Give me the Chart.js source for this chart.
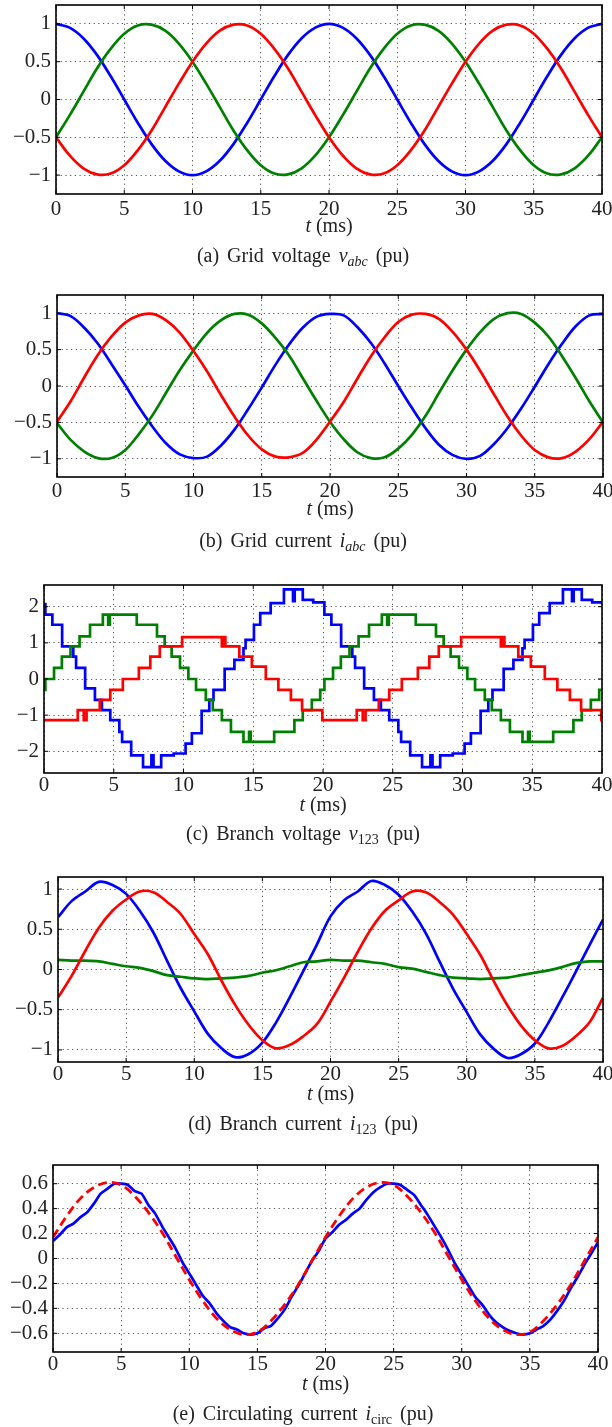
<!DOCTYPE html>
<html>
<head>
<meta charset="utf-8">
<script src="https://cdn.jsdelivr.net/npm/chart.js@4.4.1/dist/chart.umd.min.js"></script>
<style>
  body { margin: 0; background: #fff; }
  #page { position: relative; width: 612px; height: 1427px; overflow: hidden;
          font-family: "Liberation Serif", "DejaVu Serif", serif; color: #222; }
  #page canvas { position: absolute; left: 0; }
  .axl, .cap { position: absolute; font-size: 20px; line-height: 24px; text-align: center; white-space: nowrap; }
  .cap { left: 0; width: 606px; word-spacing: 3px; }
  sub { font-size: 14px; line-height: 0; vertical-align: -4px; }
</style>
</head>
<body>
<div id="page"></div>
<script>
// time base (ms) for the sampled traces
const tMs = [0,1,2,3,4,5,6,7,8,9,10,11,12,13,14,15,16,17,18,19,20,
             21,22,23,24,25,26,27,28,29,30,31,32,33,34,35,36,37,38,39,40];
const tHalfMs = [0,0.5,1,1.5,2,2.5,3,3.5,4,4.5,5,5.5,6,6.5,7,7.5,8,8.5,9,9.5,
                 10,10.5,11,11.5,12,12.5,13,13.5,14,14.5,15,15.5,16,16.5,17,17.5,18,18.5,19,19.5,
                 20,20.5,21,21.5,22,22.5,23,23.5,24,24.5,25,25.5,26,26.5,27,27.5,28,28.5,29,29.5,
                 30,30.5,31,31.5,32,32.5,33,33.5,34,34.5,35,35.5,36,36.5,37,37.5,38,38.5,39,39.5,40];
const xTicks = [0,5,10,15,20,25,30,35,40];

// (a) grid voltage
const gridVBlue  = [1,.95,.81,.59,.31,0,-.31,-.59,-.81,-.95,-1,-.95,-.81,-.59,-.31,0,.31,.59,.81,.95,
                    1,.95,.81,.59,.31,0,-.31,-.59,-.81,-.95,-1,-.95,-.81,-.59,-.31,0,.31,.59,.81,.95,1];
const gridVGreen = [-.5,-.21,.10,.41,.67,.87,.98,.99,.91,.74,.5,.21,-.10,-.41,-.67,-.87,-.98,-.99,-.91,-.74,
                    -.5,-.21,.10,.41,.67,.87,.98,.99,.91,.74,.5,.21,-.10,-.41,-.67,-.87,-.98,-.99,-.91,-.74,-.5];
const gridVRed   = [-.5,-.74,-.91,-.99,-.98,-.87,-.67,-.41,-.10,.21,.5,.74,.91,.99,.98,.87,.67,.41,.10,-.21,
                    -.5,-.74,-.91,-.99,-.98,-.87,-.67,-.41,-.10,.21,.5,.74,.91,.99,.98,.87,.67,.41,.10,-.21,-.5];

// (b) grid current
const gridIBlue  = [1,.96,.80,.58,.30,.01,-.29,-.56,-.79,-.94,-.99,-.97,-.82,-.60,-.32,-.02,.29,.57,.80,.95,
                    .99,.97,.81,.59,.31,0,-.30,-.58,-.81,-.95,-1,-.96,-.80,-.58,-.31,-.01,.30,.58,.82,.97,.99];
const gridIGreen = [-.51,-.74,-.90,-.99,-.99,-.88,-.66,-.40,-.09,.22,.49,.73,.90,.99,.98,.86,.66,.42,.11,-.20,
                    -.49,-.73,-.91,-.99,-.98,-.86,-.67,-.41,-.09,.22,.50,.74,.92,1,.99,.87,.68,.41,.11,-.21,-.5];
const gridIRed   = [-.49,-.21,.12,.43,.68,.87,.97,.99,.90,.73,.48,.20,-.12,-.42,-.68,-.87,-.97,-.98,-.92,-.74,
                    -.49,-.22,.10,.41,.67,.88,.98,.99,.92,.74,.50,.21,-.11,-.42,-.68,-.88,-.98,-.99,-.90,-.73,-.49];

// (c) branch voltage: step start times (ms) and levels
const branchVBlueT = [0,0.1,0.6,1.3,2.1,2.3,2.95,3.65,4.15,4.75,5.4,5.6,6.25,7.1,7.7,7.85,8.4,9.3,10.15,10.6,
                      11.3,11.85,12.15,12.95,13.65,14.3,14.45,15.05,15.5,16.25,17.2,17.85,17.97,18.55,19.3,
                      20.1,20.6,21.3,22.1,22.3,22.95,23.65,24.15,24.75,25.4,25.6,26.25,27.1,27.7,27.85,28.4,29.3,30.15,30.6,
                      31.3,31.85,32.15,32.95,33.65,34.3,34.45,35.05,35.5,36.25,37.2,37.85,37.97,38.55,39.3,40];
const branchVBlue  = [2.07,1.78,1.5,0.9,0.62,0.31,-0.26,-0.58,-0.86,-1.14,-1.46,-1.74,-2.11,-2.44,-2.11,-2.44,-2.11,-2.06,-1.79,-1.5,
                      -0.88,-0.58,-0.3,0.28,0.53,0.85,1.08,1.5,1.82,2.1,2.48,2.15,2.48,2.19,2.12,
                      1.78,1.5,0.9,0.62,0.31,-0.26,-0.58,-0.86,-1.14,-1.46,-1.74,-2.11,-2.44,-2.11,-2.44,-2.11,-2.06,-1.79,-1.5,
                      -0.88,-0.58,-0.3,0.28,0.53,0.85,1.08,1.5,1.82,2.1,2.48,2.15,2.48,2.19,2.12,2.07];
const branchVGreenT = [0,0.1,0.72,1.28,1.9,2.55,3.3,4.22,4.6,4.72,6.65,8.1,8.65,9.15,9.75,10.35,10.9,11.6,12.1,12.75,
                       13.4,14.3,14.7,14.82,16.5,17.95,18.55,19.2,19.8,
                       20.1,20.72,21.28,21.9,22.55,23.3,24.22,24.6,24.72,26.65,28.1,28.65,29.15,29.75,30.35,30.9,31.6,32.1,32.75,
                       33.4,34.3,34.7,34.82,36.5,37.95,38.55,39.2,39.8,40];
const branchVGreen  = [-0.3,0,0.31,0.62,0.9,1.18,1.5,1.78,1.5,1.78,1.5,1.18,0.9,0.62,0.31,0,-0.3,-0.58,-0.86,-1.14,
                       -1.46,-1.74,-1.46,-1.74,-1.46,-1.14,-0.86,-0.58,-0.3,
                       0,0.31,0.62,0.9,1.18,1.5,1.78,1.5,1.78,1.5,1.18,0.9,0.62,0.31,0,-0.3,-0.58,-0.86,-1.14,
                       -1.46,-1.74,-1.46,-1.74,-1.46,-1.14,-0.86,-0.58,-0.3,-0.3];
const branchVRedT = [0,2.42,2.85,3.05,4.0,4.75,5.65,6.8,7.62,8.3,9.9,12.75,12.9,13.0,14.0,14.9,15.9,16.8,17.7,18.5,19.95,
                     22.42,22.85,23.05,24.0,24.75,25.65,26.8,27.62,28.3,29.9,32.75,32.9,33.0,34.0,34.9,35.9,36.8,37.7,38.5,39.95,40];
const branchVRed  = [-1.14,-0.86,-1.14,-0.86,-0.58,-0.3,0,0.31,0.62,0.9,1.16,0.9,1.16,0.9,0.62,0.34,0,-0.3,-0.58,-0.86,-1.14,
                     -0.86,-1.14,-0.86,-0.58,-0.3,0,0.31,0.62,0.9,1.16,0.9,1.16,0.9,0.62,0.34,0,-0.3,-0.58,-0.86,-1.14,-1.14];

// (d) branch current
const branchIBlue  = [0.65,0.85,0.97,1.09,1.05,0.94,0.73,0.46,0.11,-0.23,-0.52,-0.80,-0.98,-1.09,-1.05,-0.91,-0.66,-0.35,-0.02,0.31,
                      0.66,0.86,0.97,1.10,1.05,0.93,0.72,0.45,0.10,-0.24,-0.53,-0.81,-0.99,-1.10,-1.05,-0.92,-0.66,-0.35,-0.03,0.30,0.62];
const branchIGreen = [0.12,0.11,0.11,0.10,0.07,0.04,0.02,-0.02,-0.07,-0.09,-0.11,-0.12,-0.11,-0.10,-0.08,-0.04,-0.01,0.04,0.09,0.10,
                      0.12,0.11,0.11,0.09,0.07,0.03,0.01,-0.03,-0.07,-0.10,-0.11,-0.12,-0.11,-0.10,-0.07,-0.04,-0.01,0.03,0.08,0.10,0.10];
const branchIRed   = [-0.35,-0.08,0.23,0.52,0.73,0.87,0.97,0.96,0.84,0.69,0.44,0.19,-0.14,-0.44,-0.69,-0.88,-0.98,-0.94,-0.83,-0.68,
                      -0.40,-0.10,0.22,0.51,0.73,0.86,0.97,0.96,0.84,0.68,0.44,0.18,-0.15,-0.45,-0.70,-0.88,-0.98,-0.95,-0.83,-0.66,-0.35];

// (e) circulating current: measured (blue, 0.5 ms samples) and reference (red dashed)
const circBlue = [0.14,0.19,0.25,0.28,0.33,0.37,0.44,0.52,0.56,0.60,0.60,0.59,0.54,0.52,0.43,0.36,0.26,0.17,0.08,-0.03,
                  -0.12,-0.21,-0.30,-0.36,-0.44,-0.50,-0.55,-0.57,-0.60,-0.61,-0.60,-0.56,-0.54,-0.48,-0.41,-0.31,-0.22,-0.12,-0.02,0.06,
                  0.16,0.21,0.27,0.31,0.36,0.40,0.47,0.53,0.57,0.60,0.60,0.59,0.55,0.51,0.43,0.35,0.26,0.17,0.07,-0.04,
                  -0.13,-0.22,-0.31,-0.37,-0.45,-0.51,-0.55,-0.58,-0.60,-0.61,-0.60,-0.57,-0.54,-0.49,-0.42,-0.34,-0.24,-0.15,-0.05,0.04,0.13];
const circRef  = [0.17,0.34,0.48,0.57,0.61,0.59,0.50,0.37,0.21,0.02,-0.17,-0.34,-0.48,-0.57,-0.61,-0.59,-0.50,-0.37,-0.21,-0.02,
                  0.17,0.34,0.48,0.57,0.61,0.59,0.50,0.37,0.21,0.02,-0.17,-0.34,-0.48,-0.57,-0.61,-0.59,-0.50,-0.37,-0.21,-0.02,0.17];

const BLUE = '#0000ff', GREEN = '#008000', RED = '#ff0000';
const FONT = { family: '"Liberation Serif", "Times New Roman", serif', size: 21 };

function xy(ts, vs) { return ts.map((t, i) => ({ x: t, y: vs[i] })); }

function trace(ts, vs, color, extra) {
  return Object.assign({ data: xy(ts, vs), borderColor: color, borderWidth: 2.7,
                         pointRadius: 0, tension: 0.35, fill: false }, extra || {});
}

// black frame with inward ticks, drawn on top like a matlab box
const boxPlugin = {
  id: 'box',
  afterDraw(chart) {
    const { ctx, chartArea: a, scales } = chart;
    ctx.save();
    ctx.strokeStyle = '#000';
    ctx.lineWidth = 1;
    ctx.beginPath();
    scales.x.ticks.forEach(t => {
      const px = scales.x.getPixelForValue(t.value);
      ctx.moveTo(px, a.bottom); ctx.lineTo(px, a.bottom - 4);
      ctx.moveTo(px, a.top); ctx.lineTo(px, a.top + 4);
    });
    scales.y.ticks.forEach(t => {
      const py = scales.y.getPixelForValue(t.value);
      ctx.moveTo(a.left, py); ctx.lineTo(a.left + 4, py);
      ctx.moveTo(a.right, py); ctx.lineTo(a.right - 4, py);
    });
    ctx.stroke();
    ctx.lineWidth = 1.6;
    ctx.strokeRect(a.left, a.top, a.right - a.left, a.bottom - a.top);
    ctx.restore();
  }
};

function makePanel(p) {
  const page = document.getElementById('page');
  const top = p.T - 5;
  const xh = 28;
  const h = p.B - top + xh;

  const cv = document.createElement('canvas');
  cv.width = 612; cv.height = h; cv.style.top = top + 'px';
  page.appendChild(cv);

  const ax = document.createElement('div');
  ax.className = 'axl';
  ax.style.left = p.L + 'px'; ax.style.width = (p.R - p.L) + 'px';
  ax.style.top = (p.B + 31 - 12) + 'px';
  ax.innerHTML = '<i>t</i> (ms)';
  page.appendChild(ax);

  const cap = document.createElement('div');
  cap.className = 'cap';
  cap.style.top = (p.cap - 12) + 'px';
  cap.innerHTML = p.caption;
  page.appendChild(cap);

  const gridOpts = { color: '#555', lineWidth: 1, drawTicks: false };
  const borderOpts = { display: false, dash: [1.2, 3.5] };
  const fmt = v => String(v).replace('-', '\u2212');

  new Chart(cv, {
    type: 'line',
    data: { datasets: p.datasets },
    options: {
      responsive: false,
      animation: false,
      events: [],
      layout: { padding: { top: 5, right: 612 - p.R, left: 0, bottom: 0 } },
      plugins: { legend: { display: false }, tooltip: { enabled: false } },
      scales: {
        x: {
          type: 'linear', min: 0, max: 40,
          afterBuildTicks: s => { s.ticks = xTicks.map(v => ({ value: v })); },
          afterFit: s => { s.height = xh; s.paddingLeft = 0; s.paddingRight = 0; },
          grid: gridOpts, border: borderOpts,
          ticks: { padding: p.pad, color: '#222', font: FONT, maxRotation: 0, autoSkip: false, callback: fmt }
        },
        y: {
          type: 'linear', min: p.yMin, max: p.yMax,
          afterBuildTicks: s => { s.ticks = p.yTicks.map(v => ({ value: v })); },
          afterFit: s => { s.width = p.L; s.paddingTop = 0; s.paddingBottom = 0; },
          grid: gridOpts, border: borderOpts,
          ticks: { padding: 5, color: '#222', font: FONT, autoSkip: false, callback: fmt }
        }
      }
    },
    plugins: [boxPlugin]
  });
}

makePanel({
  T: 5, B: 194, L: 56, R: 602, pad: 3, cap: 255,
  yMin: -1.25, yMax: 1.25, yTicks: [-1, -0.5, 0, 0.5, 1],
  caption: '(a) Grid voltage <i>v</i><sub><i>abc</i></sub> (pu)',
  datasets: [trace(tMs, gridVRed, RED), trace(tMs, gridVGreen, GREEN), trace(tMs, gridVBlue, BLUE)]
});

makePanel({
  T: 295, B: 477, L: 57, R: 603, pad: 2, cap: 540,
  yMin: -1.25, yMax: 1.25, yTicks: [-1, -0.5, 0, 0.5, 1],
  caption: '(b) Grid current <i>i</i><sub><i>abc</i></sub> (pu)',
  datasets: [trace(tMs, gridIRed, RED), trace(tMs, gridIGreen, GREEN), trace(tMs, gridIBlue, BLUE)]
});

makePanel({
  T: 585, B: 773, L: 44, R: 602, pad: 0, cap: 833,
  yMin: -2.6, yMax: 2.6, yTicks: [-2, -1, 0, 1, 2],
  caption: '(c) Branch voltage <i>v</i><sub>123</sub> (pu)',
  datasets: [
    trace(branchVRedT, branchVRed, RED, { stepped: true, tension: 0 }),
    trace(branchVGreenT, branchVGreen, GREEN, { stepped: true, tension: 0 }),
    trace(branchVBlueT, branchVBlue, BLUE, { stepped: true, tension: 0 })
  ]
});

makePanel({
  T: 877, B: 1062, L: 58, R: 603, pad: 0, cap: 1123,
  yMin: -1.15, yMax: 1.15, yTicks: [-1, -0.5, 0, 0.5, 1],
  caption: '(d) Branch current <i>i</i><sub>123</sub> (pu)',
  datasets: [trace(tMs, branchIRed, RED), trace(tMs, branchIGreen, GREEN), trace(tMs, branchIBlue, BLUE)]
});

makePanel({
  T: 1165, B: 1352, L: 53, R: 598, pad: 0, cap: 1413,
  yMin: -0.75, yMax: 0.75, yTicks: [-0.6, -0.4, -0.2, 0, 0.2, 0.4, 0.6],
  caption: '(e) Circulating current <i>i</i><sub>circ</sub> (pu)',
  datasets: [trace(tMs, circRef, RED, { borderDash: [9, 5], borderWidth: 2.8 }),
             trace(tHalfMs, circBlue, BLUE, { tension: 0.2 })]
});
</script>
</body>
</html>
